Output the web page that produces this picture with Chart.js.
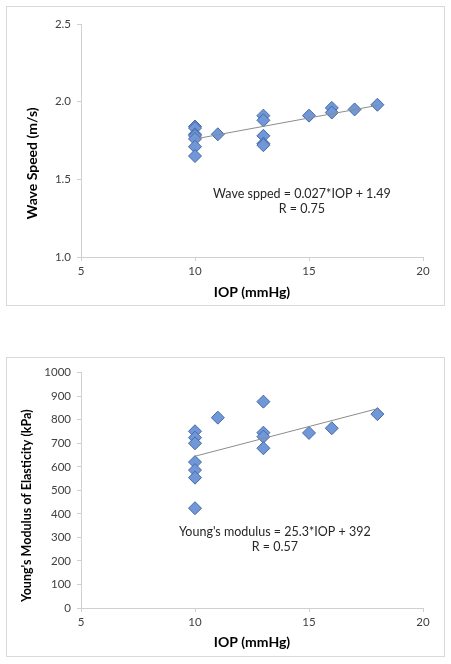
<!DOCTYPE html>
<html>
<head>
<meta charset="utf-8">
<script src="https://cdn.jsdelivr.net/npm/chart.js@4.4.0/dist/chart.umd.min.js"></script>
<style>
  body { margin: 0; background: #fff; width: 451px; height: 664px; position: relative; overflow: hidden; }
  .box { position: absolute; left: 6px; width: 439px; height: 300px; box-sizing: border-box; border: 1px solid #d9d9d9; }
  .box canvas { position: absolute; left: -1px; top: -1px; }
</style>
</head>
<body>
<div class="box" style="top:6px"><canvas id="waveChart" width="439" height="300"></canvas></div>
<div class="box" style="top:357px"><canvas id="youngChart" width="439" height="300"></canvas></div>
<script>
// IOP (mmHg) of each eye
var iopValues = [10, 10, 10, 10, 10, 10, 10, 11, 13, 13, 13, 13, 13, 15, 16, 16, 17, 18];
// wave speed (m/s)
var waveSpeed = [1.84, 1.83, 1.79, 1.78, 1.76, 1.71, 1.65, 1.79, 1.91, 1.88, 1.78, 1.73, 1.72, 1.91, 1.96, 1.93, 1.95, 1.98];

var iopYoung = [10, 10, 10, 10, 10, 10, 10, 11, 13, 13, 13, 13, 15, 16, 18];
// Young's modulus (kPa)
var youngModulus = [751, 724, 700, 620, 586, 554, 424, 809, 877, 745, 728, 679, 744, 764, 824];

// linear fit end points
var trendX = [10, 18];
var trendWave = [1.76, 1.976];
var trendYoung = [645, 847];

var waveTicks = [1.0, 1.5, 2.0, 2.5];
var youngTicks = [0, 100, 200, 300, 400, 500, 600, 700, 800, 900, 1000];
var iopTicks = [5, 10, 15, 20];

var waveLabel = ["Wave spped = 0.027*IOP + 1.49", "R = 0.75"];
var youngLabel = ["Young's modulus = 25.3*IOP + 392", "R = 0.57"];

var FONT = "Lato, 'Open Sans', sans-serif";

function pairs(xs, ys) {
  var out = [];
  for (var i = 0; i < xs.length; i++) out.push({ x: xs[i], y: ys[i] });
  return out;
}

// axis titles + fit equation drawn on the canvas
var textPlugin = {
  id: "chartText",
  afterDraw: function (chart) {
    var o = chart.options.plugins.chartText;
    var ctx = chart.ctx;
    var area = chart.chartArea;
    ctx.save();
    ctx.fillStyle = "#000";
    ctx.textAlign = "center";
    ctx.textBaseline = "middle";
    ctx.font = "bold 14px " + FONT;
    ctx.fillText(o.xTitle, (area.left + area.right) / 2, o.xTitleY);
    ctx.save();
    ctx.translate(o.yTitleX, o.yTitleY);
    ctx.rotate(-Math.PI / 2);
    ctx.font = "bold " + o.yTitleSize + "px " + FONT;
    ctx.fillText(o.yTitle, 0, 0);
    ctx.restore();
    ctx.font = "12.5px " + FONT;
    ctx.fillStyle = "#262626";
    var sx = chart.scales.x, sy = chart.scales.y;
    for (var i = 0; i < o.lines.length; i++) {
      ctx.fillText(o.lines[i], sx.getPixelForValue(o.at[i][0]), sy.getPixelForValue(o.at[i][1]));
    }
    ctx.restore();
  }
};

function makeChart(id, xs, ys, trendY, yTicks, yFmt, padTop, text) {
  return new Chart(id, {
    type: "scatter",
    data: {
      datasets: [
        {
          data: pairs(trendX, trendY),
          type: "line",
          showLine: true,
          borderColor: "#8c8c8c",
          borderWidth: 1,
          pointRadius: 0,
          order: 0
        },
        {
          data: pairs(xs, ys),
          pointStyle: "rectRot",
          pointRadius: 6.5,
          pointHoverRadius: 6.5,
          backgroundColor: "#7098d8",
          borderColor: "#4669a3",
          borderWidth: 1,
          order: 1
        }
      ]
    },
    options: {
      responsive: false,
      animation: false,
      events: [],
      layout: { padding: { left: 0, right: 22, top: padTop, bottom: 0 } },
      plugins: { legend: { display: false }, tooltip: { enabled: false }, chartText: text },
      scales: {
        x: {
          type: "linear",
          min: iopTicks[0],
          max: iopTicks[iopTicks.length - 1],
          afterBuildTicks: function (s) { s.ticks = iopTicks.map(function (v) { return { value: v }; }); },
          afterFit: function (s) { s.height = 49; },
          ticks: { color: "#404040", font: { family: FONT, size: 11.5 }, padding: 3, maxRotation: 0 },
          grid: { drawOnChartArea: false, drawTicks: true, tickLength: 4, color: "#d0d0d0" },
          border: { color: "#d0d0d0" }
        },
        y: {
          type: "linear",
          min: yTicks[0],
          max: yTicks[yTicks.length - 1],
          afterBuildTicks: function (s) { s.ticks = yTicks.map(function (v) { return { value: v }; }); },
          afterFit: function (s) { s.width = 75; },
          ticks: { color: "#404040", font: { family: FONT, size: 11.5 }, padding: 6, callback: yFmt },
          grid: { drawOnChartArea: false, drawTicks: true, tickLength: 4, color: "#d0d0d0" },
          border: { color: "#d0d0d0" }
        }
      }
    },
    plugins: [textPlugin]
  });
}

makeChart("waveChart", iopValues, waveSpeed, trendWave, waveTicks,
  function (v) { return v.toFixed(1); }, 18,
  {
    xTitle: "IOP (mmHg)", xTitleY: 286.7,
    yTitle: "Wave Speed (m/s)", yTitleX: 26.5, yTitleY: 157.3, yTitleSize: 14,
    lines: waveLabel, at: [[14.69, 1.406], [14.69, 1.309]]
  });

makeChart("youngChart", iopYoung, youngModulus, trendYoung, youngTicks,
  function (v) { return String(v); }, 15.7,
  {
    xTitle: "IOP (mmHg)", xTitleY: 285.7,
    yTitle: "Young's Modulus of Elasticity (kPa)", yTitleX: 21, yTitleY: 148.7, yTitleSize: 12.5,
    lines: youngLabel, at: [[13.5, 323], [13.5, 260]]
  });
</script>
</body>
</html>
